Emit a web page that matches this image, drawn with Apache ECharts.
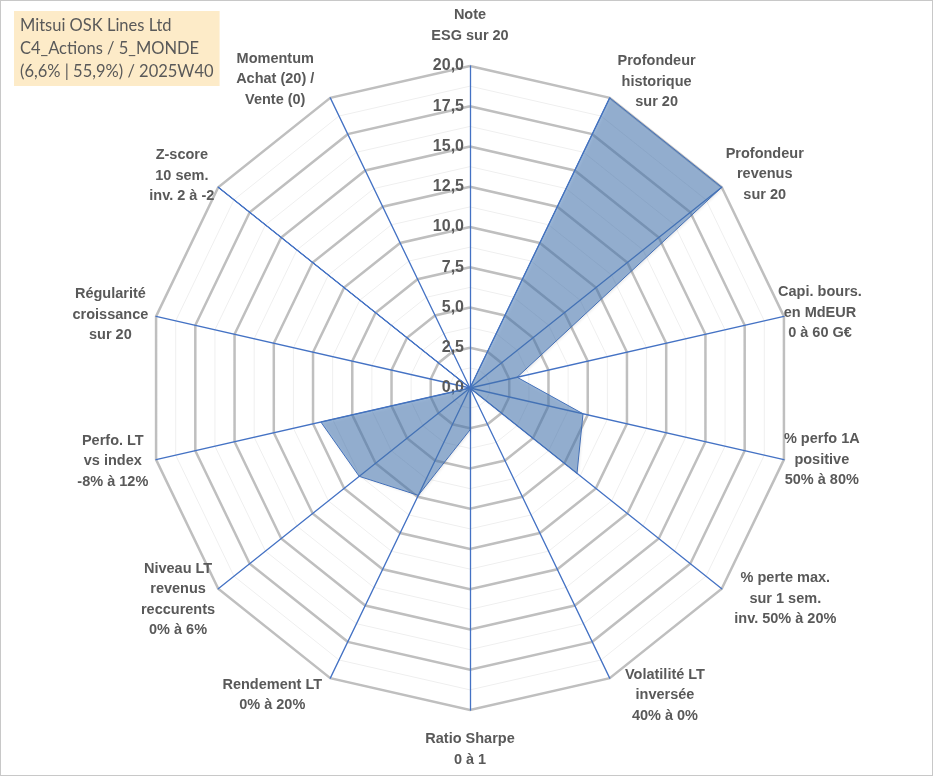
<!DOCTYPE html>
<html>
<head>
<meta charset="utf-8">
<script src="https://cdn.jsdelivr.net/npm/echarts@6/dist/echarts.min.js"></script>
<style>
  html, body { margin: 0; padding: 0; background: #fff; }
  #chart { width: 931px; height: 774px; border: 1px solid #c8c8c8; }
</style>
</head>
<body>
<div id="chart"></div>
<script>
// critères, dans le sens des aiguilles d'une montre depuis le haut
var criteres = [
    'Note\nESG sur 20',
    'Profondeur\nhistorique\nsur 20',
    'Profondeur\nrevenus\nsur 20',
    'Capi. bours.\nen MdEUR\n0 à 60 G€',
    '% perfo 1A\npositive\n50% à 80%',
    '% perte max.\nsur 1 sem.\ninv. 50% à 20%',
    'Volatilité LT\ninversée\n40% à 0%',
    'Ratio Sharpe\n0 à 1',
    'Rendement LT\n0% à 20%',
    'Niveau LT\nrevenus\nreccurents\n0% à 6%',
    'Perfo. LT\nvs index\n-8% à 12%',
    'Régularité\ncroissance\nsur 20',
    'Z-score\n10 sem.\ninv. 2 à -2',
    'Momentum\nAchat (20) /\nVente (0)'
];
// notes sur 20
var notes = [0, 20, 20, 3.0, 7.2, 8.5, 0, 2.6, 7.4, 8.8, 9.5, 0, 20, 0];
var titreLignes = ['Mitsui OSK Lines Ltd', 'C4_Actions / 5_MONDE', '(6,6% | 55,9%) / 2025W40'];
var noteMin = 0, noteMax = 20, pas = 2.5;

// écart entre le bout de l'axe et son libellé, et décalage fin (padding)
var ecarts = [20, 18, 5, -6, 0, 16, 19, 19, 19, 4, 8, 8, 5, 23];
var decalages = [
    0, 0, [0, 0, 20, 0], [0, 0, 10, 0], 0, 0, [0, 0, 0, 7],
    0, 0, [16, 0, 0, 0], 0, 0, [0, 0, 17, 0], [4, 6, 0, 0]
];

// echarts place les axes dans le sens inverse : on réordonne
var ordre = [0];
for (var i = criteres.length - 1; i > 0; i--) ordre.push(i);

var indicMajeur = [], indicMineur = [], valeurs = [];
for (var j = 0; j < ordre.length; j++) {
    var k = ordre[j];
    var ind = {
        name: criteres[k], min: noteMin, max: noteMax,
        nameGap: ecarts[k],
        nameTextStyle: { padding: decalages[k] }
    };
    if (k === 0) {
        ind.axisLabel = {
            show: true,
            color: '#595959',
            fontSize: 16,
            fontWeight: 'bold',
            fontFamily: 'Liberation Sans',
            margin: 6,
            formatter: function (v) { return Number(v).toFixed(1).replace('.', ','); }
        };
    }
    indicMajeur.push(ind);
    indicMineur.push({ name: '', min: noteMin, max: noteMax });
    valeurs.push(notes[k]);
}

var centre = [469, 387], rayon = 322;
var styleNom = {
    color: '#595959',
    fontSize: 14.5,
    fontWeight: 'bold',
    fontFamily: 'Liberation Sans',
    lineHeight: 20.5
};

var option = {
    animation: false,
    title: {
        text: titreLignes.join('\n'),
        left: 13,
        top: 10,
        padding: [3, 6, 3, 6],
        backgroundColor: '#fdebc8',
        textStyle: {
            color: '#595959',
            fontSize: 16.5,
            fontWeight: 'normal',
            fontFamily: 'Lato',
            lineHeight: 23
        }
    },
    radar: [
        { // lignes fines intermédiaires
            center: centre,
            radius: rayon,
            shape: 'polygon',
            indicator: indicMineur,
            splitNumber: (noteMax - noteMin) / (pas / 2),
            axisName: { show: false },
            axisLine: { show: false },
            splitArea: { show: false },
            splitLine: { lineStyle: { color: '#efefef', width: 1 } }
        },
        { // grille principale
            center: centre,
            radius: rayon,
            shape: 'polygon',
            indicator: indicMajeur,
            splitNumber: (noteMax - noteMin) / pas,
            nameGap: 8,
            axisName: {
                color: styleNom.color,
                fontSize: styleNom.fontSize,
                fontWeight: styleNom.fontWeight,
                fontFamily: styleNom.fontFamily,
                lineHeight: styleNom.lineHeight,
                // lignes centrées dans le bloc
                formatter: function (nom) {
                    return nom.split('\n').map(function (l) { return '{c|' + l + '}'; }).join('\n');
                },
                rich: {
                    c: {
                        align: 'center',
                        color: styleNom.color,
                        fontSize: styleNom.fontSize,
                        fontWeight: styleNom.fontWeight,
                        fontFamily: styleNom.fontFamily,
                        lineHeight: styleNom.lineHeight
                    }
                }
            },
            axisLine: { lineStyle: { color: '#4472c4', width: 1.3 } },
            axisLabel: { show: false },
            splitArea: { show: false },
            splitLine: { lineStyle: { color: '#bfbfbf', width: 2.5 } }
        }
    ],
    series: [{
        type: 'radar',
        radarIndex: 1,
        symbol: 'none',
        lineStyle: { color: '#4472c4', width: 1 },
        areaStyle: {
            color: 'rgba(74,124,186,0.77)',
            shadowColor: 'rgba(0,0,0,0.2)',
            shadowBlur: 3,
            shadowOffsetX: 1,
            shadowOffsetY: 1
        },
        data: [{ value: valeurs, name: titreLignes[0] }]
    }]
};

var myChart = echarts.init(document.getElementById('chart'));
myChart.setOption(option);
</script>
</body>
</html>
